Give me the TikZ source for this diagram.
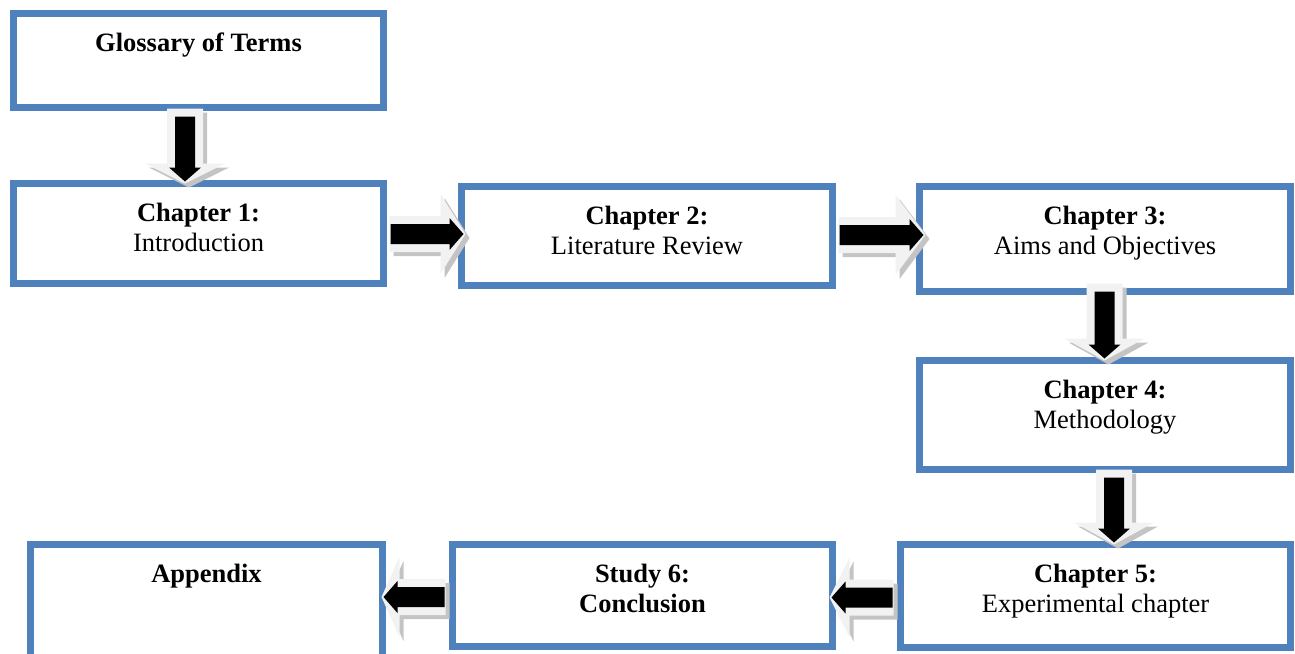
\documentclass[tikz,border=0pt]{standalone}
\usepackage{fontspec}
\setmainfont{Liberation Serif}
\usetikzlibrary{calc}
\definecolor{boxblue}{HTML}{4F81BD}
\definecolor{lightc}{HTML}{F2F2F2}
\definecolor{shadowc}{HTML}{C4C4C4}
\tikzset{
  box/.style={draw=boxblue, line width=7pt, fill=white, inner sep=0pt},
  txt/.style={inner sep=0pt, font=\fontsize{26.5}{30}\selectfont},
  pics/arrbody/.style n args={2}{code={
    \path[pic actions] (0,18) -- ({#1-#2},18) -- ({#1-#2},40) -- (#1,0)
      -- ({#1-#2},-40) -- ({#1-#2},-18) -- (0,-18) -- cycle;}},
  pics/arrcore/.style n args={2}{code={
    \fill[black] (#2,10) -- ({#1-16},10) -- ({#1-16},16) -- ({#1-2},0)
      -- ({#1-16},-16) -- ({#1-16},-10) -- (#2,-10) -- cycle;}}
}
% #1 rotation, #2 tail coordinate name, #3 length, #4 head length, #5 core offset
\newcommand\blockarrow[5]{%
  \pic[rotate=#1, fill=shadowc] at ($(#2)+(4,-4)$) {arrbody={#3}{#4}};
  \pic[rotate=#1, fill=lightc] at (#2) {arrbody={#3}{#4}};
  \pic[rotate=#1] at (#2) {arrcore={#3}{#5}};}
\begin{document}
\begin{tikzpicture}[x=1pt,y=1pt]
\useasboundingbox (0,0) rectangle (1295,-653);
\clip (0,0) rectangle (1295,-653);
% boxes
\node[box, minimum width=370pt, minimum height=94pt]  (g)  at (198.5,-60.5) {};
\node[box, minimum width=370pt, minimum height=100pt] (c1) at (198.5,-233.5) {};
\node[box, minimum width=371pt, minimum height=99pt]  (c2) at (647,-236) {};
\node[box, minimum width=371pt, minimum height=105pt] (c3) at (1105,-239) {};
\node[box, minimum width=371pt, minimum height=109pt] (c4) at (1105,-415) {};
\node[box, minimum width=390pt, minimum height=103pt] (c5) at (1095.5,-596) {};
\node[box, minimum width=380pt, minimum height=102pt] (s6) at (642.5,-595.5) {};
\node[box, minimum width=352pt, minimum height=117pt] (ap) at (206.5,-603) {};
% texts
\node[txt, anchor=base] (tg) at ($(g.north)+(0,-41.5)$) {\textbf{Glossary of Terms}};
\node[txt, anchor=base] (t1a) at ($(c1.north)+(0,-41.5)$) {\textbf{Chapter 1:}};
\node[txt, anchor=base] (t1b) at ($(t1a.base)+(0,-30)$) {Introduction};
\node[txt, anchor=base] (t2a) at ($(c2.north)+(0,-41.5)$) {\textbf{Chapter 2:}};
\node[txt, anchor=base] (t2b) at ($(t2a.base)+(0,-30)$) {Literature Review};
\node[txt, anchor=base] (t3a) at ($(c3.north)+(0,-41.5)$) {\textbf{Chapter 3:}};
\node[txt, anchor=base] (t3b) at ($(t3a.base)+(0,-30)$) {Aims and Objectives};
\node[txt, anchor=base] (t4a) at ($(c4.north)+(0,-41.5)$) {\textbf{Chapter 4:}};
\node[txt, anchor=base] (t4b) at ($(t4a.base)+(0,-30)$) {Methodology};
\node[txt, anchor=base] (t5a) at ($(c5.north)+(0,-41.5)$) {\textbf{Chapter 5:}};
\node[txt, anchor=base] (t5b) at ($(t5a.base)+(0,-30)$) {Experimental chapter};
\node[txt, anchor=base] (t6a) at ($(s6.north)+(0,-41.5)$) {\textbf{Study 6:}};
\node[txt, anchor=base] (t6b) at ($(t6a.base)+(0,-30)$) {\textbf{Conclusion}};
\node[txt, anchor=base] (tap) at ($(ap.north)+(0,-41.5)$) {\textbf{Appendix}};
% arrow tails
\coordinate (a1) at ($(g.south)+(-13.5,2.5)$);
\coordinate (a2) at ($(c1.east)+(2.5,-0.5)$);
\coordinate (a3) at ($(c2.east)+(2.5,1)$);
\coordinate (a4) at ($(c3.south)+(-0.5,11.5)$);
\coordinate (a5) at ($(c4.south)+(9,3.5)$);
\coordinate (a6) at ($(c5.west)+(-3.5,-1.5)$);
\coordinate (a7) at ($(s6.west)+(-3.5,-1.5)$);
% block arrows
\blockarrow{-90}{a1}{75}{20}{8}
\blockarrow{0}{a2}{76}{25}{1}
\blockarrow{0}{a3}{87}{30}{1}
\blockarrow{-90}{a4}{77}{22}{8}
\blockarrow{-90}{a5}{75}{22}{8}
\blockarrow{180}{a6}{64}{20}{1}
\blockarrow{180}{a7}{64}{18}{1}
\end{tikzpicture}
\end{document}
